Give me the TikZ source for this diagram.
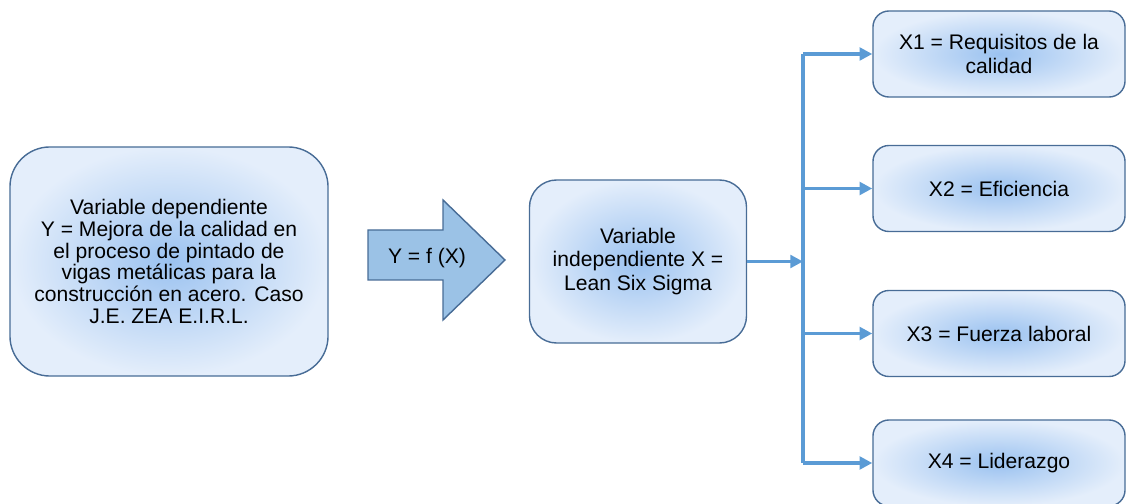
\documentclass[tikz,border=0pt]{standalone}
\usepackage{fontspec}
\setmainfont{Liberation Sans}
\usetikzlibrary{arrows.meta}
\definecolor{boxline}{RGB}{72,108,150}
\definecolor{boxin}{RGB}{155,194,240}
\definecolor{boxout}{RGB}{228,238,251}
\definecolor{arrfill}{RGB}{155,194,230}
\definecolor{conncol}{RGB}{91,155,213}
\tikzset{
    varbox/.style = {draw = boxline, line width = 1pt, inner color = boxin, outer color = boxout, align = center},
    conn/.style = {draw = conncol, line width = 2.8pt, -{Triangle[length = 9pt, width = 9pt]}},
    bus/.style = {draw = conncol, line width = 2.8pt}
}
\begin{document}
\begin{tikzpicture}[x = 0.025cm, y = -0.025cm, every node/.style = {font = {\fontsize{15}{16.8}\selectfont}}]
        \useasboundingbox (0,0) rectangle (1127,504);
        % variable dependiente
        \node[varbox, font = {\fontsize{15}{15.4}\selectfont}, rounded corners = 1cm, minimum width = 7.95cm, minimum height = 5.725cm] (dep) at (169,261.5)
            {Variable dependiente\\Y = Mejora de la calidad en\\el proceso de pintado de\\vigas metálicas para la\\construcción en acero. Caso\\J.E. ZEA E.I.R.L.};
        % flecha
        \draw[draw = boxline, line width = 1pt, fill = arrfill] (368,230) -- (443,230) -- (443,200) -- (505,260) -- (443,320) -- (443,280) -- (368,280) -- cycle;
        \node (fx) at (427,258) {Y = f (X)};
        % variable independiente
        \node[varbox, rounded corners = 0.68cm, minimum width = 5.425cm, minimum height = 4.075cm] (ind) at (638,261.5)
            {Variable\\independiente X =\\Lean Six Sigma};
        % dimensiones
        \foreach \n/\y/\t in {1/54/{X1 = Requisitos de la\\calidad},2/188.5/{X2 = Eficiencia},3/333.5/{X3 = Fuerza laboral},4/463/{X4 = Liderazgo}}
            \node[varbox, rounded corners = 0.4cm, minimum width = 6.3cm, minimum height = 2.15cm] (x\n) at (999,\y) {\t};
        \coordinate (split) at (803,261.5);
        \draw[conn] (ind.east) -- (split);
        \draw[bus] (split |- x1.west) -- (split |- x4.west);
        \foreach \n in {1,...,4}
            \draw[conn] (split |- x\n.west) -- (x\n.west);
    \end{tikzpicture}
\end{document}
